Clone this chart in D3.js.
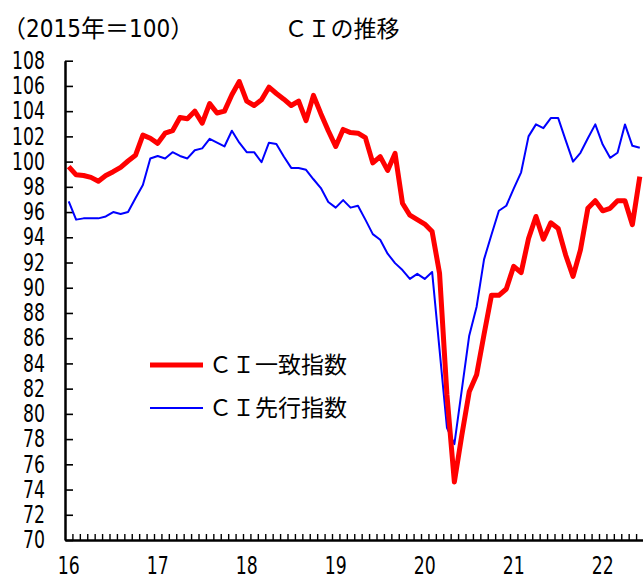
<!DOCTYPE html>
<html>
<head>
<meta charset="utf-8">
<script src="https://cdn.jsdelivr.net/npm/d3@7"></script>
<style>
  body { margin: 0; background: #fff; }
  svg { display: block; }
</style>
</head>
<body>
<div id="chart"></div>
<script>
// CI coincident / leading index, 2015=100, monthly Jan 2016 - Jun 2022
var yearLabels = ["16", "17", "18", "19", "20", "21", "22"];

var ciCoincident = [
    99.6, 98.95, 98.9, 98.75, 98.45, 98.9, 99.2, 99.55, 100.05, 100.5, 102.1, 101.85,
    101.45, 102.25, 102.45, 103.5, 103.4, 104.0, 103.05, 104.6, 103.85, 104.0, 105.3, 106.35,
    104.8, 104.45, 104.9, 105.9, 105.4, 104.95, 104.45, 104.8, 103.25, 105.25, 103.8, 102.45,
    101.2, 102.55, 102.3, 102.25, 101.9, 99.9, 100.4, 99.3, 100.65, 96.7, 95.75, 95.4,
    95.05, 94.45, 91.15, 81.5, 74.6, 78.3, 81.75, 83.1, 86.3, 89.4, 89.4, 89.9,
    91.7, 91.2, 93.9, 95.65, 93.85, 95.15, 94.7, 92.6, 90.9, 93.0, 96.3, 96.9,
    96.1, 96.3, 96.9, 96.9, 95.0, 98.8
];

var ciLeading = [
    96.85, 95.4, 95.5, 95.5, 95.5, 95.65, 96.0, 95.85, 96.0, 97.1, 98.15, 100.25,
    100.45, 100.25, 100.75, 100.45, 100.25, 100.9, 101.05, 101.8, 101.5, 101.2, 102.45, 101.5,
    100.75, 100.75, 99.95, 101.5, 101.4, 100.4, 99.5, 99.5, 99.35, 98.6, 97.9, 96.8,
    96.35, 96.95, 96.35, 96.5, 95.4, 94.25, 93.8, 92.7, 91.95, 91.4, 90.7, 91.1,
    90.7, 91.25, 85.1, 78.9, 77.6, 81.9, 86.2, 88.5, 92.25, 94.2, 96.1, 96.5,
    97.85, 99.15, 102.0, 102.95, 102.65, 103.45, 103.45, 101.7, 100.0, 100.7, 101.85, 102.95,
    101.35, 100.3, 100.7, 102.95, 101.25, 101.1
];

var seriesNames = ["ＣＩ一致指数", "ＣＩ先行指数"];
var seriesColors = ["#ff0000", "#0000ff"];

var width = 643;
var height = 576;
var numFont = "'DejaVu Sans Condensed', 'DejaVu Sans', sans-serif";
var jpFont = "'Noto Sans CJK JP', 'Noto Sans CJK SC', sans-serif";
var squeeze = 0.8; // narrow, tall digits like the original

var months = d3.timeMonth.range(new Date(2016, 0, 1), new Date(2022, 6, 1));
var fmt = d3.timeFormat("%Y-%m");
var monthKeys = months.map(fmt);

var svg = d3.select("#chart").append("svg")
    .attr("width", width)
    .attr("height", height);

var x = d3.scaleBand()
    .domain(monthKeys)
    .range([65, 643.5]);

// boundaries between months, for the small tick marks
var xTicks = d3.scaleLinear()
    .domain([0, monthKeys.length])
    .range([65, 643.5]);

var y = d3.scaleLinear()
    .domain([70, 108])
    .range([540, 60.7]);

// y axis
var yAxis = svg.append("g")
    .attr("transform", "translate(65,0)")
    .call(d3.axisLeft(y)
        .tickValues(d3.range(70, 109, 2))
        .tickSizeInner(-8)
        .tickSizeOuter(0)
        .tickPadding(20));
yAxis.attr("font-family", numFont).attr("font-size", 24);
yAxis.select(".domain").attr("stroke", "#000").attr("stroke-width", 2.5);
yAxis.selectAll(".tick line").attr("stroke", "#000").attr("stroke-width", 1.6);
yAxis.selectAll(".tick text")
    .attr("fill", "#000")
    .attr("x", -20 / squeeze)
    .attr("transform", "scale(" + squeeze + ",1)");

// x axis: month ticks
var xAxis = svg.append("g")
    .attr("transform", "translate(0,540)")
    .call(d3.axisBottom(xTicks)
        .tickValues(d3.range(1, monthKeys.length + 1))
        .tickSizeInner(-6)
        .tickSizeOuter(0)
        .tickFormat(""));
xAxis.select(".domain").attr("stroke", "#000").attr("stroke-width", 2.5);
xAxis.selectAll(".tick line").attr("stroke", "#000").attr("stroke-width", 1.4);

// x axis: year labels on January
var januaries = monthKeys.filter(function(k) { return k.slice(5) === "01"; });
var xLabels = svg.append("g")
    .attr("transform", "translate(0,540)")
    .call(d3.axisBottom(x)
        .tickValues(januaries)
        .tickSize(0)
        .tickPadding(17)
        .tickFormat(function(d, i) { return yearLabels[i]; }));
xLabels.attr("font-family", numFont).attr("font-size", 24);
xLabels.select(".domain").remove();
xLabels.selectAll(".tick text")
    .attr("fill", "#000")
    .attr("transform", "scale(" + squeeze + ",1)");

// lines
var series = [
    { name: seriesNames[0], values: ciCoincident, color: seriesColors[0], width: 5 },
    { name: seriesNames[1], values: ciLeading, color: seriesColors[1], width: 2 }
];

var line = d3.line()
    .x(function(d, i) { return x(monthKeys[i]) + x.bandwidth() / 2; })
    .y(function(d) { return y(d); });

// draw leading first so the red one sits on top
series.slice().reverse().forEach(function(s) {
    svg.append("path")
        .datum(s.values)
        .attr("fill", "none")
        .attr("stroke", s.color)
        .attr("stroke-width", s.width)
        .attr("stroke-linejoin", "round")
        .attr("d", line);
});

// legend
var legend = svg.append("g");
series.forEach(function(s, i) {
    var ly = 365 + i * 43;
    legend.append("line")
        .attr("x1", 150).attr("x2", 203)
        .attr("y1", ly).attr("y2", ly)
        .attr("stroke", s.color)
        .attr("stroke-width", s.width);
    legend.append("text")
        .attr("x", 209)
        .attr("y", ly)
        .attr("dy", "0.36em")
        .attr("font-family", jpFont)
        .attr("font-size", 23)
        .attr("fill", "#000")
        .text(s.name);
});

// titles
svg.append("text")
    .attr("x", 342)
    .attr("y", 37)
    .attr("text-anchor", "middle")
    .attr("font-family", jpFont)
    .attr("font-size", 23)
    .attr("fill", "#000")
    .text("ＣＩの推移");

svg.append("text")
    .attr("x", 2)
    .attr("y", 37)
    .attr("font-family", "'DejaVu Sans Condensed', 'Noto Sans CJK JP', sans-serif")
    .attr("font-size", 24)
    .attr("fill", "#000")
    .text("（2015年＝100）");
</script>
</body>
</html>
